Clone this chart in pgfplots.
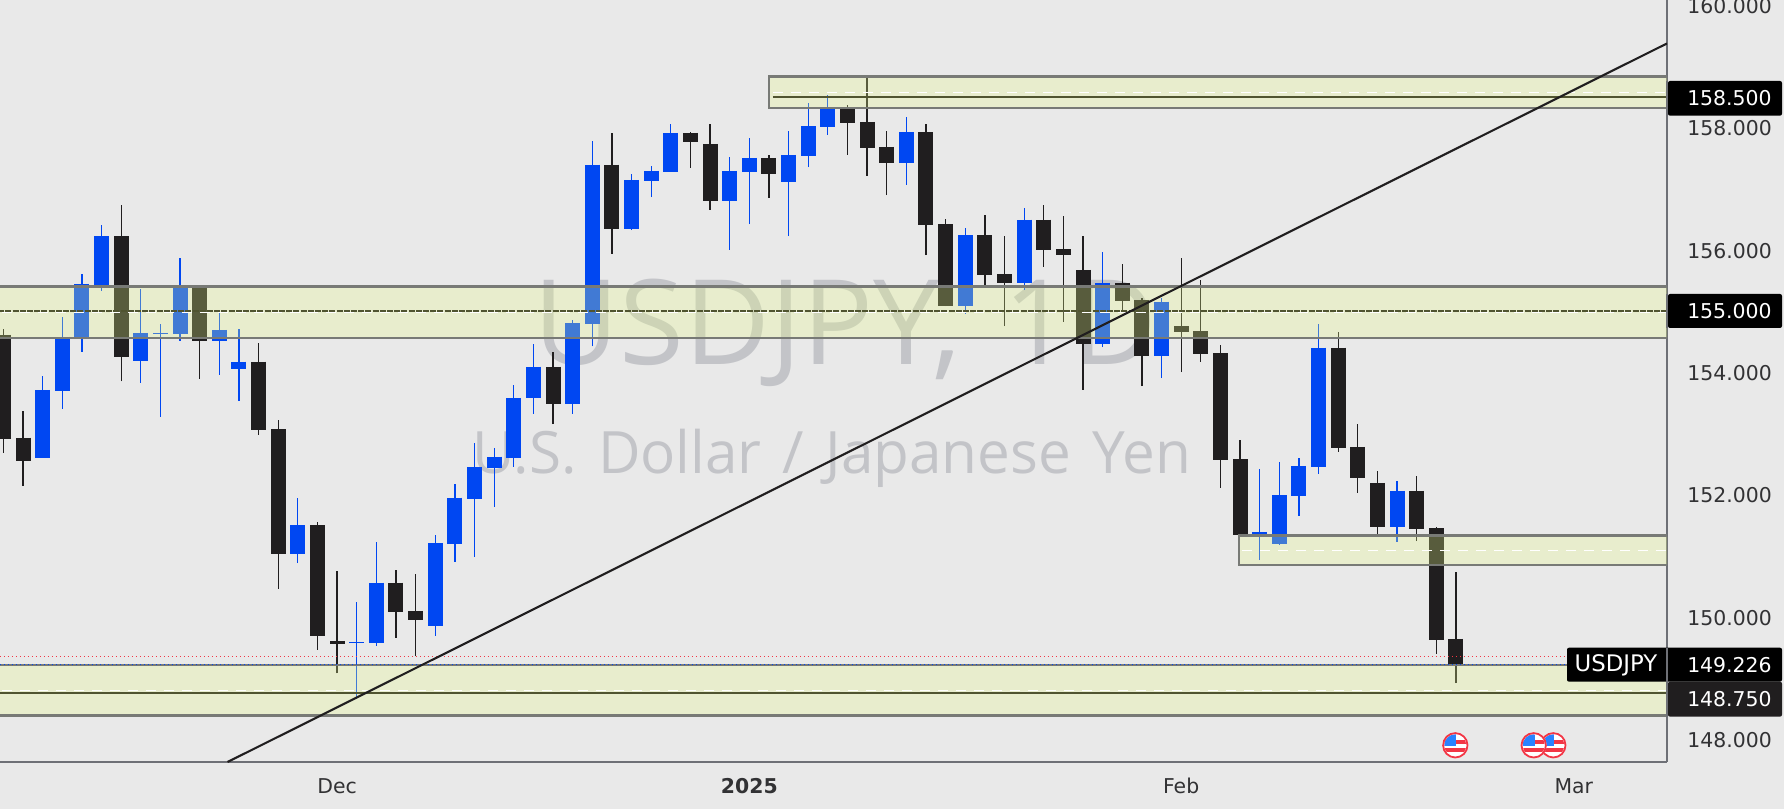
\documentclass[border=0pt]{standalone}
\usepackage{fontspec}
\setmainfont{DejaVu Sans}
\newfontfamily\wmfont{Open Sans}
\newfontfamily\wmfontb[WordSpace=1.4]{Open Sans}
\usepackage{pgfplots}
\usepackage{pgfplotstable}
\pgfplotsset{compat=1.18}

\definecolor{bg}{RGB}{233,233,233}
\definecolor{upc}{RGB}{0,71,242}
\definecolor{downc}{RGB}{32,30,31}
\definecolor{zone}{RGB}{230,250,138}
\definecolor{zoneline}{RGB}{120,122,118}
\definecolor{midline}{RGB}{80,84,48}
\definecolor{wmark}{RGB}{195,196,200}
\definecolor{scaleline}{RGB}{110,112,118}
\definecolor{scaletext}{RGB}{50,50,52}
\definecolor{flagred}{RGB}{242,54,69}
\definecolor{flagblue}{RGB}{41,130,255}

% i high top bottom low
\pgfplotstableread{
i high top bot low
2 153.94 153.71 152.60 152.60
3 154.90 154.58 153.69 153.40
4 155.60 155.44 154.55 154.33
5 156.40 156.22 155.42 155.33
7 155.35 154.64 154.18 153.83
8 154.79 154.64 154.62 153.27
9 155.87 155.41 154.62 154.51
11 155.02 154.69 154.51 153.96
12 154.70 154.17 154.05 153.53
15 151.95 151.50 151.03 150.88
18 150.25 149.59 149.58 148.66
19 151.23 150.56 149.58 149.53
22 151.34 151.21 149.85 149.69
23 152.17 151.95 151.19 150.90
24 152.84 152.45 151.93 150.98
25 152.76 152.62 152.44 151.80
26 153.79 153.58 152.60 152.45
27 154.46 154.09 153.58 153.32
29 154.85 154.80 153.48 153.32
30 157.78 157.39 154.79 154.42
32 157.24 157.14 156.34 156.32
33 157.37 157.29 157.12 156.86
34 158.05 157.91 157.27 157.27
37 157.52 157.29 156.80 156.00
38 157.83 157.50 157.27 156.42
40 157.94 157.55 157.11 156.22
41 158.40 158.02 157.53 157.35
42 158.53 158.31 158.01 157.88
46 158.17 157.92 157.42 157.06
49 156.36 156.24 155.08 154.95
52 156.68 156.49 155.46 155.34
56 155.96 155.46 154.46 154.41
59 155.21 155.15 154.26 153.90
64 152.42 151.39 151.34 150.93
65 152.53 151.99 151.19 151.18
66 152.60 152.47 151.98 151.65
67 154.79 154.40 152.45 152.34
71 152.22 152.06 151.47 151.23
}\upcandles

\pgfplotstableread{
i high top bot low
0 154.70 154.61 152.91 152.68
1 153.36 152.93 152.55 152.14
6 156.73 156.22 154.25 153.85
10 155.40 155.40 154.51 153.89
13 154.48 154.17 153.06 152.98
14 153.22 153.07 151.03 150.46
16 151.55 151.50 149.69 149.46
17 150.75 149.61 149.56 149.08
20 150.77 150.56 150.08 149.66
21 150.70 150.10 149.95 149.36
28 154.33 154.09 153.48 153.15
31 157.91 157.39 156.34 155.93
35 157.92 157.91 157.76 157.34
36 158.05 157.73 156.80 156.65
39 157.55 157.50 157.24 156.85
43 158.37 158.31 158.07 157.55
44 158.86 158.09 157.66 157.21
45 157.94 157.68 157.42 156.89
47 158.05 157.92 156.40 155.91
48 156.50 156.42 155.08 155.08
50 156.57 156.24 155.59 155.40
51 156.22 155.60 155.46 154.75
53 156.73 156.49 156.00 155.72
54 156.55 156.01 155.91 154.82
55 156.22 155.67 154.46 153.71
57 155.77 155.46 155.16 154.96
58 155.21 155.18 154.26 153.77
60 155.87 154.75 154.66 154.00
61 155.51 154.67 154.30 154.17
62 154.44 154.31 152.56 152.11
63 152.89 152.58 151.34 151.34
68 154.66 154.40 152.76 152.70
69 153.15 152.78 152.27 152.03
70 152.39 152.19 151.47 151.34
72 152.30 152.06 151.44 151.24
73 151.47 151.45 149.62 149.40
74 150.74 149.64 149.226 148.92
}\downcandles

\pgfplotsset{
  wick/.style={draw=none,mark=none,forget plot,error bars/.cd,y dir=plus,y explicit,error mark=none,
    error bar style={line width=.62pt,draw=#1,solid}},
  body/.style={draw=none,mark=none,forget plot,error bars/.cd,y dir=minus,y explicit,error mark=none,
    error bar style={line width=7.5pt,draw=#1,solid}},
  zonebox/.style={draw=zoneline,line width=1.15pt,fill=none,forget plot},
  zonefill/.style={draw=none,fill=zone,fill opacity=.285,forget plot},
}

\newcommand{\usflag}[2]{%
  \begin{scope}
    \fill[white] (#1,#2) circle (13);
    \clip (#1,#2) circle (11);
    \fill[flagred] (#1-12,#2-5) rectangle (#1+12,#2-1);
    \fill[flagred] (#1-12,#2+3) rectangle (#1+12,#2+7);
    \fill[flagblue] (#1-12,#2-12) rectangle (#1+1,#2+1);
  \end{scope}
  \draw[flagred,line width=.9pt] (#1,#2) circle (12.2);
}

\begin{document}
\begin{tikzpicture}
\fill[bg,use as bounding box] (0,0) rectangle (892pt,404.5pt);
\begin{axis}[
    at={(0,23.5pt)},anchor=south west,
    width=833.5pt,height=381pt,scale only axis,
    xmin=-0.173,xmax=84.75,
    ymin=147.63,ymax=160.08,
    axis x line*=bottom,axis y line*=right,
    axis line style={draw=scaleline,line width=.6pt,-},
    major tick length=0pt,
    xtick={17,38,60,80},
    xticklabels={Dec,\textbf{2025},Feb,Mar},
    ytick={148,150,152,154,156,158,160},
    tick label style={text=scaletext,font=\fontsize{10.2pt}{12pt}\selectfont,inner sep=0pt},
    xticklabel style={yshift=-8pt},
    yticklabel style={xshift=10pt,yshift=-.5pt},
    yticklabel={\pgfmathprintnumber[fixed,fixed zerofill,precision=3,assume math mode=true]{\tick}},
]
\node[wmark,anchor=base west,inner sep=0pt,font=\wmfont\fontsize{59pt}{70pt}\selectfont] at (axis cs:27.0,154.12) {USDJPY, 1D};
\node[wmark,anchor=base west,inner sep=0pt,font=\wmfontb\fontsize{29.2pt}{36pt}\selectfont] at (axis cs:23.87,152.35) {U.S. Dollar / Japanese Yen};

\addplot[wick=upc] table[x=i,y=low,y error plus expr=\thisrow{high}-\thisrow{low}] {\upcandles};
\addplot[body=upc] table[x=i,y=top,y error minus expr=\thisrow{top}-\thisrow{bot}] {\upcandles};
\addplot[wick=downc] table[x=i,y=low,y error plus expr=\thisrow{high}-\thisrow{low}] {\downcandles};
\addplot[body=downc] table[x=i,y=top,y error minus expr=\thisrow{top}-\thisrow{bot}] {\downcandles};

% zones, over the candles
\addplot[zonefill] coordinates {(39,158.83)(90,158.83)(90,158.32)(39,158.32)} --cycle;
\addplot[zonefill] coordinates {(-5,155.40)(90,155.40)(90,154.56)(-5,154.56)} --cycle;
\addplot[zonefill] coordinates {(62.93,151.33)(90,151.33)(90,150.85)(62.93,150.85)} --cycle;
\addplot[zonefill] coordinates {(-5,149.22)(90,149.22)(90,148.39)(-5,148.39)} --cycle;
\addplot[zonebox] coordinates {(39,158.83)(90,158.83)(90,158.32)(39,158.32)} --cycle;
\addplot[zonebox] coordinates {(-5,155.40)(90,155.40)(90,154.56)(-5,154.56)} --cycle;
\addplot[zonebox] coordinates {(62.93,151.33)(90,151.33)(90,150.85)(62.93,150.85)} --cycle;
\addplot[zonebox] coordinates {(-5,149.22)(90,149.22)(90,148.39)(-5,148.39)} --cycle;

% levels
\addplot[white,line width=.5pt,dash pattern=on 5pt off 4pt,forget plot] coordinates {(39.2,158.57)(85,158.57)};
\addplot[white,line width=.5pt,dash pattern=on 5pt off 4pt,forget plot] coordinates {(-1,154.98)(85,154.98)};
\addplot[white,line width=.5pt,dash pattern=on 5pt off 4pt,forget plot] coordinates {(63.1,151.09)(85,151.09)};
\addplot[white,line width=.5pt,dash pattern=on 5pt off 4pt,forget plot] coordinates {(-1,148.80)(85,148.80)};
\addplot[midline,line width=1pt,forget plot] coordinates {(39.2,158.50)(85,158.50)};
\addplot[midline,line width=.8pt,dash pattern=on 3pt off .6pt,forget plot] coordinates {(-1,155.00)(85,155.00)};
\addplot[midline,line width=1pt,forget plot] coordinates {(-1,148.75)(85,148.75)};

% price lines
\addplot[flagred,line width=.5pt,dash pattern=on .8pt off 1.2pt,forget plot] coordinates {(-1,149.36)(79.6,149.36)};
\addplot[upc,line width=.5pt,dash pattern=on .8pt off 1.2pt,forget plot] coordinates {(-1,149.226)(79.6,149.226)};

% trend line
\addplot[downc,line width=1.05pt,forget plot] coordinates {(11.42,147.63)(84.75,159.37)};
\end{axis}

% right scale boxes and labels, in image pixels
\begin{scope}[x=.5pt,y=-.5pt,shift={(0,404.5pt)}]
  \fill[black,rounded corners=1pt] (1668,81) rectangle (1782,115.7);
  \fill[black,rounded corners=1pt] (1668,294) rectangle (1782,328);
  \fill[downc,rounded corners=1pt] (1668,681.7) rectangle (1782,716.7);
  \fill[black,rounded corners=1pt] (1567,647.7) rectangle (1782,681.7);
  \draw[scaleline,line width=.6pt] (1667,647.7) -- (1667,716.7);
  \draw[scaleline,line width=.6pt] (1667,81) -- (1667,115.7);
  \draw[scaleline,line width=.6pt] (1667,294) -- (1667,328);
  \begin{scope}[every node/.style={white,anchor=east,inner sep=0pt,font=\fontsize{10.2pt}{12pt}\selectfont}]
    \node at (1772,98.3) {158.500};
    \node at (1772,311) {155.000};
    \node at (1772,665) {149.226};
    \node at (1772,699.3) {148.750};
    \node[anchor=center,font=\fontsize{11.4pt}{13pt}\selectfont] at (1616,665.5) {USDJPY};
  \end{scope}
  \usflag{1455.3}{745.3}
  \usflag{1553.3}{745.3}
  \usflag{1533.7}{745.3}
\end{scope}
\end{tikzpicture}
\end{document}
